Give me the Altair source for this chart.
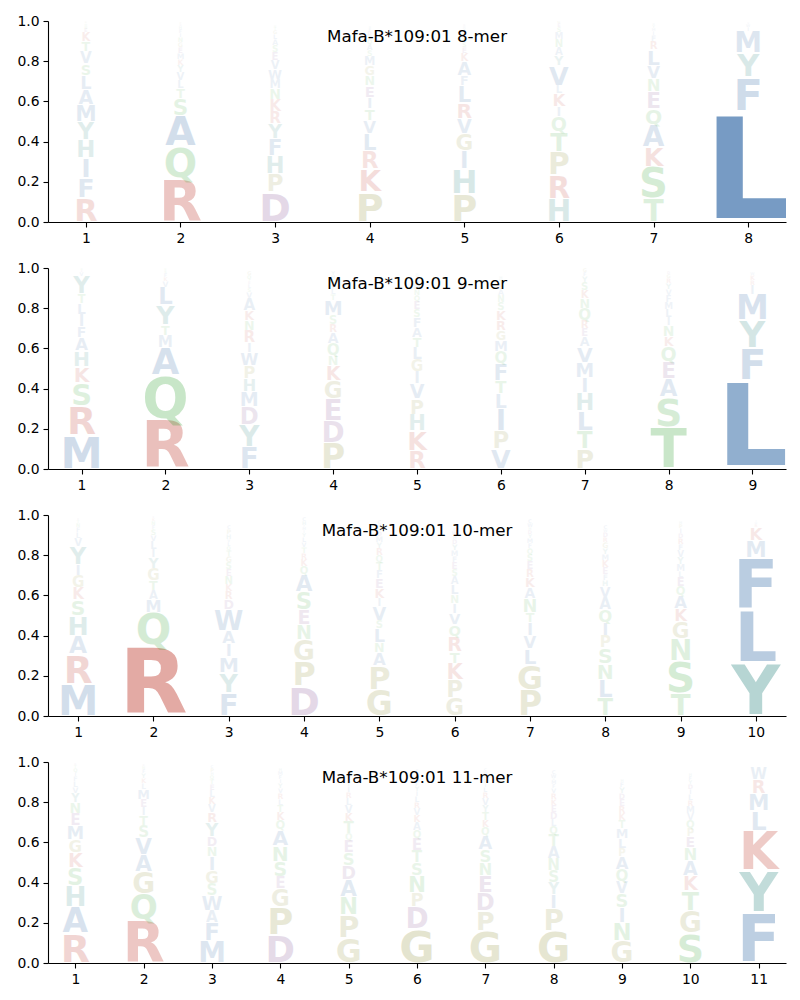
import altair as alt
import pandas as pd

ALLELE = "Mafa-B*109:01"

# Residues of each column, bottom to top, with their frequencies
LETTERS_8 = ["RFIHYMALSVTKENQG", "RQASTLVYKMEGNIFHDP", "DPHFYRKNMWVESALGTQ",
             "PKRLVTIENGMSAQYDFH", "PHIGVRLFAKESNTQYMD", "HRPTQIKLVYANMSEG",
             "TSKAQENVLRFIMYH", "LFYMIWV"]
HEIGHTS_8 = [
    [.12, .10, .10, .09, .09, .085, .075, .07, .057, .06, .05, .045, .02, .015, .012, .01],
    [.22, .155, .155, .085, .05, .04, .04, .035, .03, .03, .03, .025, .025, .02, .02, .015, .01, .01],
    [.15, .09, .09, .085, .075, .06, .06, .055, .045, .05, .045, .04, .035, .03, .025, .02, .015, .01],
    [.15, .115, .09, .085, .065, .058, .058, .058, .05, .05, .045, .03, .03, .025, .02, .02, .015, .01],
    [.14, .125, .09, .085, .075, .08, .085, .05, .07, .04, .03, .025, .02, .02, .015, .015, .01, .01],
    [.117, .116, .117, .10, .075, .05, .065, .04, .10, .05, .04, .04, .035, .025, .02, .015],
    [.117, .158, .10, .11, .08, .085, .065, .065, .08, .04, .03, .02, .015, .015, .01],
    [.55, .17, .12, .11, .02, .015, .01],
]

LETTERS_9 = ["MRSKHAFILTYVEN", "RQAMTYLVKFSN", "FYDMHPWIRNKAVSLETQG",
             "PDEGKNQARSMTLVIFHY", "RKHPVIGLTAFSEQNMDYW", "VPILTFQMGRKSNAEYH",
             "PTLHIMVAERQNKSYFG", "TSAEQKNILMFVYRGD", "LFYMIRKW"]
HEIGHTS_9 = [
    [.167, .149, .114, .08, .08, .065, .055, .06, .055, .045, .09, .02, .01, .01],
    [.25, .215, .14, .06, .05, .10, .09, .03, .02, .02, .015, .01],
    [.11, .11, .09, .075, .065, .065, .065, .05, .06, .05, .05, .06, .03, .02, .02, .015, .01, .02, .02],
    [.13, .11, .11, .09, .075, .05, .06, .055, .04, .045, .075, .03, .03, .02, .015, .01, .02, .02],
    [.09, .10, .083, .075, .075, .06, .06, .06, .05, .05, .05, .04, .04, .03, .03, .03, .02, .02, .01],
    [.10, .09, .11, .075, .065, .085, .06, .055, .05, .05, .05, .04, .035, .03, .03, .02, .015],
    [.10, .09, .10, .09, .075, .075, .08, .05, .04, .04, .06, .05, .04, .04, .03, .02, .02],
    [.21, .15, .09, .085, .075, .05, .055, .04, .04, .035, .035, .03, .03, .025, .02, .015],
    [.44, .16, .14, .13, .045, .025, .025, .015],
]

LETTERS_10 = ["MRAHSKGIYVLFNTE", "RQMATGYILVSFNKE", "FYMIAWDRKNESGTQLVHPC",
              "DPGNESAQKRTVLYIMFHC", "GPANLSVIKEFTQRYMDHWC", "GPKTRQVINLASEFMYDHWC",
              "PGLVITNAKRESQFMYDHWC", "TLNSPIQAVHFEKMYGRDWC", "TSNGKAQELMYVFRDIPH",
              "YLFMKRWI"]
HEIGHTS_10 = [
    [.16, .148, .092, .10, .08, .06, .06, .055, .09, .04, .03, .025, .02, .015, .01],
    [.35, .165, .065, .045, .05, .06, .055, .04, .04, .03, .03, .02, .02, .015, .01],
    [.115, .10, .08, .065, .065, .105, .05, .04, .035, .04, .035, .035, .03, .03, .02, .02, .015, .025, .025, .02],
    [.15, .125, .105, .075, .075, .09, .085, .04, .035, .03, .03, .025, .025, .02, .015, .015, .01, .02, .02],
    [.13, .12, .065, .05, .07, .04, .07, .04, .05, .05, .04, .04, .035, .035, .03, .03, .025, .02, .015, .02],
    [.09, .09, .083, .058, .075, .058, .058, .05, .042, .05, .04, .035, .035, .03, .03, .03, .025, .02, .02, .015],
    [.13, .125, .08, .065, .065, .05, .07, .055, .05, .04, .04, .035, .03, .025, .025, .02, .02, .015, .02, .02],
    [.09, .09, .08, .08, .06, .065, .065, .06, .055, .03, .03, .035, .035, .03, .03, .03, .025, .025, .015, .02],
    [.115, .16, .11, .085, .065, .065, .045, .045, .03, .035, .035, .035, .03, .03, .025, .025, .02, .015],
    [.265, .265, .26, .085, .065, .015, .01, .01],
]

LETTERS_11 = ["RAHSKGMENYVLFIQTD", "RQGAVSTIEMLKYFND", "MFAWSGINDYRVKLETQHPC",
              "DPGESNAQKTLRVYIFMH", "GPNADSEQTKVLRIYFMH", "GDPNSTEQAKVRLIYFMHWC",
              "GPDENSAQKTYVRLIFMHWC", "GPIYSNATQLDEKRVFMHWC", "GNISVQAPLMTKREDYFH",
              "SGTKANEPQVMRLIDYFH", "FYKLMRW"]
HEIGHTS_11 = [
    [.15, .13, .105, .09, .075, .065, .07, .06, .055, .045, .03, .03, .025, .02, .02, .015, .01],
    [.215, .13, .11, .085, .085, .06, .05, .04, .04, .05, .03, .025, .025, .02, .015, .01],
    [.11, .09, .06, .075, .06, .065, .07, .05, .05, .07, .05, .04, .035, .035, .03, .025, .02, .015, .02, .015],
    [.14, .14, .09, .06, .075, .08, .08, .045, .04, .035, .03, .03, .025, .025, .02, .02, .02, .015],
    [.125, .115, .09, .085, .07, .065, .06, .035, .06, .04, .04, .035, .03, .03, .025, .02, .02, .015],
    [.17, .11, .07, .085, .065, .06, .06, .04, .04, .035, .035, .03, .03, .025, .025, .02, .02, .015, .015, .015],
    [.16, .10, .09, .085, .065, .065, .07, .04, .035, .04, .035, .035, .03, .025, .02, .02, .015, .01, .015, .015],
    [.16, .11, .07, .06, .06, .06, .06, .06, .04, .035, .035, .035, .03, .03, .025, .02, .02, .01, .02, .02],
    [.11, .09, .075, .07, .06, .06, .065, .04, .05, .05, .04, .035, .035, .035, .03, .03, .025, .015],
    [.15, .11, .10, .075, .075, .065, .055, .04, .04, .035, .035, .03, .03, .025, .025, .02, .02, .015],
    [.25, .21, .20, .10, .085, .07, .06],
]

PANELS = [(8, LETTERS_8, HEIGHTS_8), (9, LETTERS_9, HEIGHTS_9),
          (10, LETTERS_10, HEIGHTS_10), (11, LETTERS_11, HEIGHTS_11)]

# residue groups and their colours
GROUP_LETTERS = ["AVLIMFWC", "RK", "HY", "STNQ", "DE", "PG"]
GROUP_COLORS = ["#0f5097", "#b51a0c", "#036f67", "#1f9a1f", "#6a2a7a", "#7a7a10"]

AA = []
AA_COLORS = []
for grp, col in zip(GROUP_LETTERS, GROUP_COLORS):
    for ch in grp:
        AA.append(ch)
        AA_COLORS.append(col)

# approximate ink width (em) of DejaVu Sans Bold capitals, used to keep glyphs inside their column
INK_EM = {"A": .77, "C": .66, "D": .72, "E": .58, "F": .55, "G": .72, "H": .70, "I": .25,
          "K": .74, "L": .56, "M": .86, "N": .70, "P": .62, "Q": .78, "R": .70, "S": .62,
          "T": .68, "V": .77, "W": 1.06, "Y": .73}

W = 738
H = 201
CAP = 0.729          # cap height of DejaVu Sans Bold (em)
SHRINK = 0.92
FONT = "DejaVu Sans"


def panel(n, letters, heights):
    rows = []
    colw = W / (n - 0.2)
    for i, (ls, hs) in enumerate(zip(letters, heights)):
        for k, (ch, h) in enumerate(zip(ls, hs)):
            cap = (0.84 * colw / INK_EM[ch]) * CAP / H / SHRINK
            rows.append({"pos": i + 1, "letter": ch, "h": h, "order": k, "cap": cap})
    df = pd.DataFrame(rows)

    letters_layer = (
        alt.Chart(df)
        .transform_window(top="sum(h)", groupby=["pos"],
                          sort=[alt.SortField("order")], frame=[None, 0])
        .transform_calculate(y0="datum.top - datum.h",
                             fs="min(datum.h, datum.cap)")
        .transform_calculate(yb=f"datum.y0 + (datum.h - {SHRINK} * datum.fs) / 2")
        .mark_text(font=FONT, fontWeight="bold", baseline="alphabetic",
                   align="center", clip=True)
        .encode(
            x=alt.X("pos:Q", scale=alt.Scale(domain=[0.6, n + 0.4], nice=False, zero=False),
                    axis=alt.Axis(values=list(range(1, n + 1)), format="d", title=None)),
            y=alt.Y("yb:Q", scale=alt.Scale(domain=[0, 1], nice=False),
                    axis=alt.Axis(values=[0, 0.2, 0.4, 0.6, 0.8, 1.0], format=".1f", title=None)),
            text="letter:N",
            color=alt.Color("letter:N", scale=alt.Scale(domain=AA, range=AA_COLORS), legend=None),
            opacity=alt.Opacity("h:Q", scale=alt.Scale(domain=[0, 1], range=[0.03, 1.0]), legend=None),
            size=alt.Size("fs:Q", scale=alt.Scale(domain=[0, 1], range=[0, SHRINK * H / CAP]),
                          legend=None),
        )
    )
    title_layer = (
        alt.Chart(pd.DataFrame({"t": [f"{ALLELE} {n}-mer"]}))
        .mark_text(font=FONT, fontSize=16.7, color="black", baseline="alphabetic", align="center")
        .encode(text="t:N", x=alt.value(W / 2), y=alt.value(21.3))
    )
    return alt.layer(letters_layer, title_layer).properties(width=W, height=H)


chart = (
    alt.vconcat(*[panel(n, l, h) for n, l, h in PANELS], spacing=16)
    .properties(padding={"left": 16, "top": 14, "right": 10, "bottom": 5}, background="white")
    .configure_view(stroke=None)
    .configure_axis(grid=False, domainColor="black", domainWidth=1.1, tickColor="black",
                    tickWidth=1.1, tickSize=5, labelPadding=4, labelColor="black",
                    labelFont=FONT, labelFontSize=13.9)
)

chart.save("out.html", embed_options={"renderer": "svg", "actions": False})
